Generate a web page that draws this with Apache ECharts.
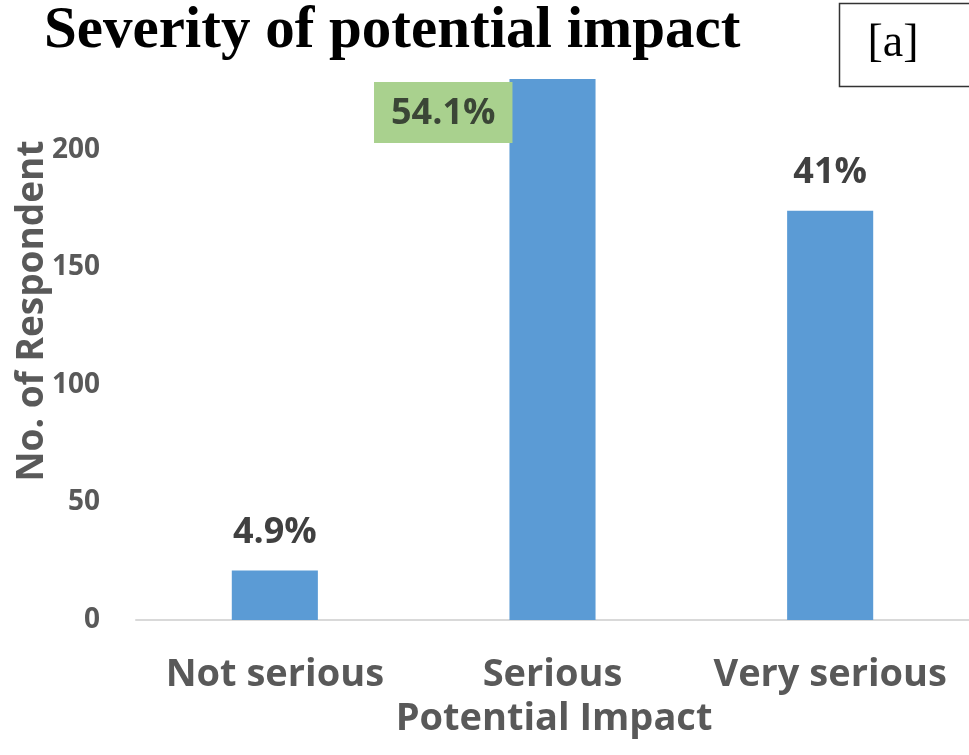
<!DOCTYPE html>
<html>
<head>
<meta charset="utf-8">
<script src="https://cdn.jsdelivr.net/npm/echarts@6/dist/echarts.min.js"></script>
<style>
  html, body { margin: 0; padding: 0; background: #ffffff; }
  #chart { width: 969px; height: 755px; }
</style>
</head>
<body>
<div id="chart"></div>
<script>
// Survey responses: how serious respondents rate the potential impact
const categories = ['Not serious', 'Serious', 'Very serious'];
const respondents = [21, 230, 174];
const shareLabels = ['4.9%', '54.1%', '41%'];
const yTicks = [0, 50, 100, 150, 200];

const font = "'Open Sans', 'Noto Sans', sans-serif";
const serif = "'Liberation Serif', 'DejaVu Serif', serif";

const barData = respondents.map((v, i) => {
  const item = { value: v, label: { formatter: shareLabels[i] } };
  if (i === 1) {
    // highlighted share sits beside the tallest bar in a green box
    item.label = {
      formatter: shareLabels[i],
      position: [3, 3],
      align: 'right',
      verticalAlign: 'top',
      backgroundColor: '#a9d18e',
      padding: [14, 17, 11, 17],
      color: '#3b4636'
    };
  }
  return item;
});

const chart = echarts.init(document.getElementById('chart'), null, { renderer: 'canvas' });
chart.setOption({
  backgroundColor: '#ffffff',
  animation: false,
  grid: { left: 136, width: 837, top: 79, bottom: 135, containLabel: false },
  xAxis: {
    type: 'category',
    data: categories,
    axisLine: { show: true, lineStyle: { color: '#d9d9d9', width: 2 } },
    axisTick: { show: false },
    axisLabel: {
      interval: 0,
      hideOverlap: false,
      margin: 36,
      fontFamily: font,
      fontWeight: 'bold',
      fontSize: 38,
      color: '#595959'
    }
  },
  yAxis: {
    type: 'value',
    min: 0,
    max: 230,
    interval: 50,
    axisLine: { show: false },
    axisTick: { show: false },
    splitLine: { show: false },
    axisLabel: {
      margin: 36,
      fontFamily: font,
      fontWeight: 'bold',
      fontSize: 28,
      color: '#595959',
      formatter: v => (yTicks.indexOf(v) >= 0 ? String(v) : '')
    }
  },
  series: [{
    type: 'bar',
    data: barData,
    barWidth: '31%',
    itemStyle: { color: '#5b9bd5' },
    label: {
      show: true,
      position: 'top',
      distance: 20,
      fontFamily: font,
      fontWeight: 'bold',
      fontSize: 36,
      color: '#404040'
    }
  }],
  graphic: [
    {
      type: 'text',
      left: 44,
      top: 2,
      style: {
        text: 'Severity of potential impact',
        font: 'bold 59px ' + serif,
        fill: '#000000'
      }
    },
    {
      type: 'rect',
      shape: { x: 839.5, y: 3.5, width: 140, height: 83 },
      style: { fill: '#ffffff', stroke: '#333333', lineWidth: 1.5 }
    },
    {
      type: 'text',
      x: 893,
      y: 44,
      style: {
        text: '[a]',
        font: '46px ' + serif,
        fill: '#000000',
        align: 'center',
        verticalAlign: 'middle'
      }
    },
    {
      type: 'text',
      x: 32,
      y: 311,
      rotation: Math.PI / 2,
      style: {
        text: 'No. of Respondent',
        font: 'bold 37px ' + font,
        fill: '#595959',
        align: 'center',
        verticalAlign: 'middle'
      }
    },
    {
      type: 'text',
      x: 554,
      y: 719,
      style: {
        text: 'Potential Impact',
        font: 'bold 38px ' + font,
        fill: '#595959',
        align: 'center',
        verticalAlign: 'middle'
      }
    }
  ]
});
</script>
</body>
</html>
